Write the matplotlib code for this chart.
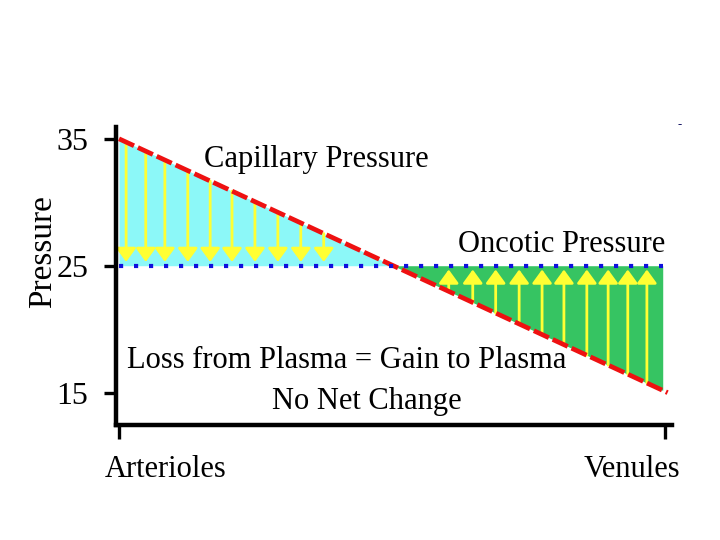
import numpy as np
import matplotlib
matplotlib.use("Agg")
import matplotlib.pyplot as plt

# capillary pressure falls linearly from arterial to venous end
line_x = [0.0, 1.005]
capillary = [35.0, 15.0]
oncotic = 25.0
oncotic_x = [0.0, 0.996]

# positions of the yellow flux arrows
out_x = [0.013, 0.049, 0.084, 0.126, 0.167, 0.207, 0.249, 0.291, 0.333, 0.375]
in_x = [0.604, 0.648, 0.690, 0.733, 0.775, 0.815, 0.857, 0.896, 0.932, 0.967]

y_ticks = [15, 25, 35]
x_ticks = [0, 1]
x_names = ["Arterioles", "Venules"]

plt.rcParams['font.family'] = ['Liberation Serif', 'DejaVu Serif']

fig = plt.figure(figsize=(7.2, 5.4), dpi=100)
ax = fig.add_axes([116/720, 1-425/540, (672-116)/720, (425-127)/540])
ax.set_xlim(-0.0055, 1.013)
ax.set_ylim(12.45, 35.93)

# crossing point of the two pressures
slope = (capillary[1]-capillary[0])/(line_x[1]-line_x[0])
x_cross = (oncotic-capillary[0])/slope
xs = np.linspace(0, x_cross, 50)
ax.fill_between(xs, np.interp(xs, line_x, capillary), oncotic, color='#8cf8f8', lw=0, zorder=1)
xs = np.linspace(x_cross, oncotic_x[1], 50)
ax.fill_between(xs, np.interp(xs, line_x, capillary), oncotic, color='#36c462', lw=0, zorder=1)

arrow_style = '-|>,head_length=0.55,head_width=0.4'
for x in out_x:
	ax.annotate("", xy=(x, oncotic+0.3), xytext=(x, np.interp(x, line_x, capillary)),
		arrowprops=dict(arrowstyle=arrow_style, color='#ffff33',
			lw=2.0, shrinkA=0, shrinkB=0, mutation_scale=15), zorder=2)
for x in in_x:
	ax.annotate("", xy=(x, oncotic-0.3), xytext=(x, np.interp(x, line_x, capillary)),
		arrowprops=dict(arrowstyle=arrow_style, color='#ffff33',
			lw=2.0, shrinkA=0, shrinkB=0, mutation_scale=15), zorder=2)

ax.plot(line_x, capillary, color='#ee1111', lw=3.4, linestyle=(0, (3.5, 0.9)), zorder=3)
ax.plot(oncotic_x, [oncotic, oncotic], color='#1010dd', lw=3, linestyle=(0, (1, 2.6)), zorder=4)

ax.text(0.361, 32.77, "Capillary Pressure", fontsize=22, ha='center', va='baseline')
ax.text(1.0, 26.05, "Oncotic Pressure", fontsize=22, ha='right', va='baseline')
ax.text(0.417, 16.96, "Loss from Plasma = Gain to Plasma", fontsize=22, ha='center', va='baseline')
ax.text(0.454, 13.72, "No Net Change", fontsize=22, ha='center', va='baseline')

for sp in ['top', 'right']:
	ax.spines[sp].set_visible(False)
for sp in ['left', 'bottom']:
	ax.spines[sp].set_linewidth(3.2)

ax.set_yticks(y_ticks)
ax.set_yticklabels([str(v) for v in y_ticks], fontsize=23)
ax.tick_params(axis='y', length=9, width=2.4, pad=11)
ax.set_xticks(x_ticks)
ax.set_xticklabels([])
ax.tick_params(axis='x', length=10, width=2.4)

ax.text(0.086, 8.98, x_names[0], fontsize=22, ha='center', va='center', clip_on=False)
ax.text(0.94, 8.98, x_names[1], fontsize=22, ha='center', va='center', clip_on=False)

fig.text(43/720, 1-252/540, "Pressure", fontsize=24, rotation=90, ha='center', va='center')
fig.text(680/720, 1-125/540, "-", fontsize=9, color='#101060', ha='center', va='center')

fig.savefig("out.png", dpi=100, facecolor='white')
